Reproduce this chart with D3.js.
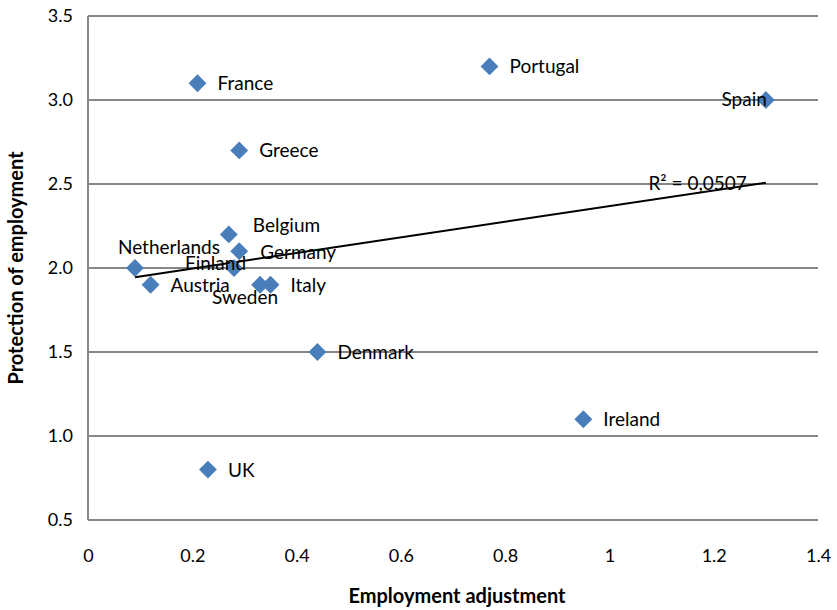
<!DOCTYPE html>
<html>
<head>
<meta charset="utf-8">
<script src="https://cdn.jsdelivr.net/npm/d3@7"></script>
<style>
  body { margin: 0; background: #fff; }
  text { font-family: Lato, "Open Sans", sans-serif; fill: #000; }
</style>
</head>
<body>
<script>
// values
var countries = ["France", "Portugal", "Spain", "Greece", "Belgium", "Germany", "Netherlands",
                 "Finland", "Austria", "Sweden", "Italy", "Denmark", "Ireland", "UK"];
var adjustment = [0.21, 0.77, 1.30, 0.29, 0.27, 0.29, 0.09, 0.28, 0.12, 0.33, 0.35, 0.44, 0.95, 0.23];
var protection = [3.1, 3.2, 3.0, 2.7, 2.2, 2.1, 2.0, 2.0, 1.9, 1.9, 1.9, 1.5, 1.1, 0.8];
var xTicks = [0, 0.2, 0.4, 0.6, 0.8, 1, 1.2, 1.4];
var yTicks = [0.5, 1.0, 1.5, 2.0, 2.5, 3.0, 3.5];
var r2Label = "R² = 0,0507";

// label placement (px offset from the marker, anchor)
var labelPos = {
  Spain: [1, 6, "end"],
  Belgium: [24, -2, "start"],
  Netherlands: [-17, -14, "start"],
  Finland: [-49, 2, "start"],
  Sweden: [-48, 19, "start"],
  Germany: [21, 8, "start"]
};

var svg = d3.select("body").append("svg")
    .attr("width", 837)
    .attr("height", 610);

var x = d3.scaleLinear().domain([0, 1.4]).range([88, 818]);
var y = d3.scaleLinear().domain([0.5, 3.5]).range([520, 16]);

// gridlines
svg.append("g")
    .selectAll("line")
    .data(yTicks)
    .enter().append("line")
    .attr("x1", x(0))
    .attr("x2", x(1.4))
    .attr("y1", function(d) { return y(d); })
    .attr("y2", function(d) { return y(d); })
    .attr("stroke", "#868686")
    .attr("stroke-width", 2);

// left axis line
svg.append("line")
    .attr("x1", x(0)).attr("x2", x(0))
    .attr("y1", y(3.5)).attr("y2", y(0.5))
    .attr("stroke", "#868686")
    .attr("stroke-width", 2);

var yAxis = svg.append("g")
    .attr("transform", "translate(" + (x(0) - 12) + ",0)")
    .call(d3.axisLeft(y).tickValues(yTicks).tickFormat(d3.format(".1f")).tickSize(0));
yAxis.select(".domain").remove();
yAxis.selectAll("text").style("font-size", "18px").attr("font-family", null);

var xAxis = svg.append("g")
    .attr("transform", "translate(0," + (y(0.5) + 26) + ")")
    .call(d3.axisBottom(x).tickValues(xTicks).tickFormat(d3.format("")).tickSize(0));
xAxis.select(".domain").remove();
xAxis.selectAll("text").style("font-size", "18px").attr("font-family", null);

// axis titles
svg.append("text")
    .attr("x", 457)
    .attr("y", 603)
    .attr("text-anchor", "middle")
    .style("font-size", "20px")
    .style("font-weight", "bold")
    .text("Employment adjustment");

svg.append("text")
    .attr("transform", "translate(23,268) rotate(-90)")
    .attr("text-anchor", "middle")
    .style("font-size", "20px")
    .style("font-weight", "bold")
    .text("Protection of employment");

// linear trendline
var n = adjustment.length;
var mx = d3.mean(adjustment), my = d3.mean(protection);
var sxy = 0, sxx = 0;
for (var i = 0; i < n; i++) {
  sxy += (adjustment[i] - mx) * (protection[i] - my);
  sxx += (adjustment[i] - mx) * (adjustment[i] - mx);
}
var slope = sxy / sxx, icpt = my - slope * mx;
var x0 = d3.min(adjustment), x1 = d3.max(adjustment);

svg.append("line")
    .attr("x1", x(x0)).attr("y1", y(icpt + slope * x0))
    .attr("x2", x(x1)).attr("y2", y(icpt + slope * x1))
    .attr("stroke", "#000")
    .attr("stroke-width", 2);

// points
var points = countries.map(function(c, i) {
  return { name: c, ax: adjustment[i], pr: protection[i] };
});

svg.append("g")
    .selectAll("path")
    .data(points)
    .enter().append("path")
    .attr("d", d3.symbol().type(d3.symbolSquare).size(160))
    .attr("transform", function(d) {
      return "translate(" + x(d.ax) + "," + y(d.pr) + ") rotate(45)";
    })
    .attr("fill", "#4a7ebb");

svg.append("g")
    .selectAll("text")
    .data(points)
    .enter().append("text")
    .attr("x", function(d) {
      var p = labelPos[d.name];
      return x(d.ax) + (p ? p[0] : 20);
    })
    .attr("y", function(d) {
      var p = labelPos[d.name];
      return y(d.pr) + (p ? p[1] : 7);
    })
    .attr("text-anchor", function(d) {
      var p = labelPos[d.name];
      return p ? p[2] : "start";
    })
    .style("font-size", "19px")
    .text(function(d) { return d.name; });

svg.append("text")
    .attr("x", x(1.3) - 19)
    .attr("y", y(2.5) + 6)
    .attr("text-anchor", "end")
    .style("font-size", "19px")
    .text(r2Label);
</script>
</body>
</html>
